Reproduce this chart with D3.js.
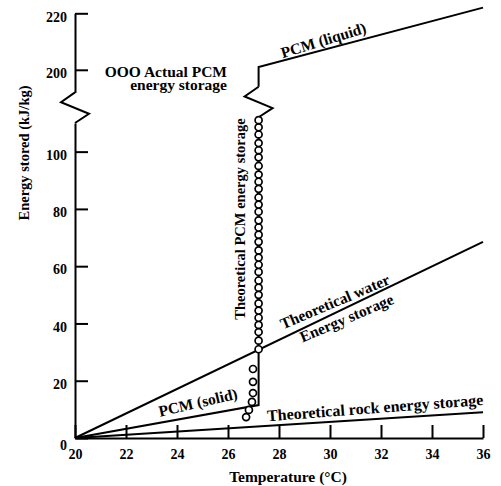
<!DOCTYPE html>
<html>
  <head>
    <style>
      body { margin: 0; background: #fff; }
      text { font-family: "Liberation Serif", "Times New Roman", serif; font-weight: bold; fill: #000; }
      .line { fill: none; stroke: #000; stroke-width: 2; }
    </style>
  </head>

  <body>

    <svg class="chart" width="501" height="486"></svg>

    <script src="https://cdn.jsdelivr.net/npm/d3@7/dist/d3.min.js" charset="utf-8"></script>
    <script>

      // ticks
      const tempTicks = [20, 22, 24, 26, 28, 30, 32, 34, 36]
      const lowTicks = [0, 20, 40, 60, 80, 100]
      const highTicks = [200, 220]

      // theoretical lines [temperature, energy]
      const water = [[20, 0], [36, 68.5]]
      const rock = [[20, 0], [36, 9]]
      const pcmSolid = [[20, 0], [27.2, 11.5], [27.2, 112]]
      const pcmLiquid = [[27.2, 194], [27.2, 201], [36, 222]]

      // measured points
      const actualTemp = [26.71, 26.82, 26.94, 26.98, 26.98, 26.98,
        27.2, 27.2, 27.2, 27.2, 27.2, 27.2, 27.2, 27.2, 27.2, 27.2, 27.2,
        27.2, 27.2, 27.2, 27.2, 27.2, 27.2, 27.2, 27.2, 27.2, 27.2,
        27.2, 27.2, 27.2, 27.2, 27.2, 27.2, 27.2, 27.2, 27.2, 27.2]
      const actualEnergy = [7.3, 9.8, 12.6, 15.7, 19.6, 24.1,
        31, 34, 37, 39.5, 42, 44.5, 47, 50, 52.5, 55, 58,
        60.5, 63, 65.5, 68.5, 71, 73.5, 76, 79, 81.5, 84,
        87, 89.5, 92, 95, 98, 100.5, 103, 106, 108.5, 111]

      const svg = d3.select('.chart')

      const x = d3.scaleLinear([20, 36], [75, 483])
      const yLo = d3.scaleLinear([0, 110], [438, 123])
      const yHi = d3.scaleLinear([192, 220], [92.4, 13.3])

      // axes
      const xAxis = svg.append('g')
        .attr('transform', 'translate(0,438)')
        .call(d3.axisBottom(x).tickValues(tempTicks).tickSize(-13).tickSizeOuter(0).tickPadding(11))

      const yAxisLo = svg.append('g')
        .attr('transform', 'translate(75,0)')
        .call(d3.axisLeft(yLo).tickValues(lowTicks).tickSize(-13).tickSizeOuter(0).tickPadding(8))

      const yAxisHi = svg.append('g')
        .attr('transform', 'translate(75,0)')
        .call(d3.axisLeft(yHi).tickValues(highTicks).tickSize(-13).tickSizeOuter(0).tickPadding(8))

      svg.selectAll('.domain, .tick line').attr('stroke', '#000').attr('stroke-width', 2)
      svg.selectAll('.tick text').attr('font-size', 14)
      yAxisLo.selectAll('.tick text').attr('dy', d => d === 0 ? '0.85em' : '0.55em')
      yAxisHi.selectAll('.tick text').attr('dy', '0.55em')

      // break marks
      function zig(x0, yTop, yBot) {
        const h = yBot - yTop
        return d3.line()([[x0, yTop], [x0 - 14, yTop + 0.32 * h], [x0 + 14, yTop + 0.7 * h], [x0, yBot]])
      }

      svg.append('path').attr('class', 'line').attr('stroke-width', 2.6)
        .attr('d', zig(x(20), yHi(192), yLo(110)))
      svg.append('path').attr('class', 'line').attr('stroke-width', 2.6)
        .attr('d', zig(x(27.2), yHi(194), yLo(112)))

      // lines
      const lineLo = d3.line().x(d => x(d[0])).y(d => yLo(d[1]))
      const lineHi = d3.line().x(d => x(d[0])).y(d => yHi(d[1]))

      svg.append('path').attr('class', 'line').attr('d', lineLo(water))
      svg.append('path').attr('class', 'line').attr('d', lineLo(rock))
      svg.append('path').attr('class', 'line').attr('d', lineLo(pcmSolid))
      svg.append('path').attr('class', 'line').attr('d', lineHi(pcmLiquid))

      // actual points
      svg.selectAll('circle')
        .data(actualTemp)
        .enter()
        .append('circle')
          .attr('cx', d => x(d))
          .attr('cy', (d, i) => yLo(actualEnergy[i]))
          .attr('r', 3.5)
          .attr('fill', '#fff')
          .attr('stroke', '#000')
          .attr('stroke-width', 1.7)

      // labels
      function note(str, px, py, angle, off, size, anchor) {
        svg.append('text')
          .attr('transform', `translate(${px},${py}) rotate(${angle})`)
          .attr('y', off)
          .attr('text-anchor', anchor || 'middle')
          .attr('font-size', size)
          .text(str)
      }

      note('PCM (liquid)', x(29.85), yHi(207.3), -17, -4, 15.5)
      note('Theoretical water', x(30.35), yLo(44.3), -23, -5, 15.5)
      note('Energy storage', x(30.5), yLo(45), -23, 15, 15.5)
      note('PCM (solid)', x(24.94), yLo(7.9), -13, -8, 15.5)
      note('Theoretical rock energy storage', x(31.8), yLo(6.6), -4.3, -6, 16)
      note('Theoretical PCM energy storage', 245, 219, -90, 0, 14.5)

      note('OOO Actual PCM', 227, 77, 0, 0, 15.5, 'end')
      note('energy storage', 227, 90, 0, 0, 15.5, 'end')

      note('Temperature (°C)', 288, 482, 0, 0, 15.5)
      note('Energy stored (kJ/kg)', 29, 153, -90, 0, 14.5)

    </script>
  </body>

</html>
